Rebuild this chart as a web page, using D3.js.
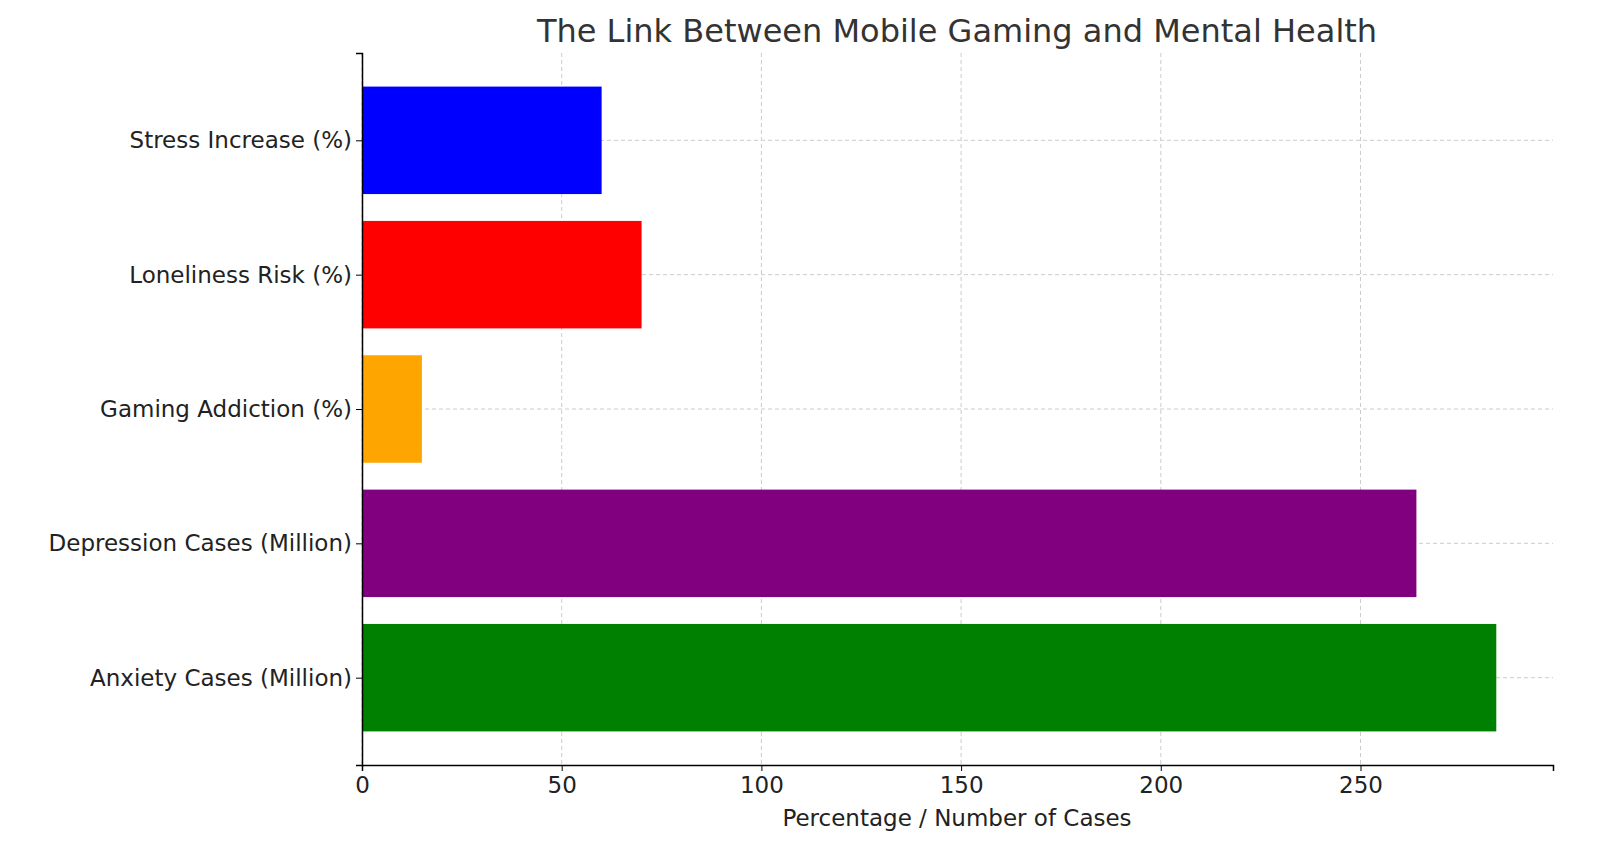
<!DOCTYPE html>
<html><head><meta charset="utf-8">
<script src="https://cdn.jsdelivr.net/npm/d3@7"></script>
<style>body{margin:0;background:#fff}text{font-family:"DejaVu Sans",sans-serif}</style>
</head><body><svg id="c" width="1600" height="864"></svg>
<script>
const categories = ["Anxiety Cases (Million)","Depression Cases (Million)","Gaming Addiction (%)","Loneliness Risk (%)","Stress Increase (%)"];
const values = [284, 264, 15, 70, 60];
const colors = ["green","purple","orange","red","blue"];
const xTicks = [0,50,100,150,200,250];
const title = "The Link Between Mobile Gaming and Mental Health";
const xLabel = "Percentage / Number of Cases";

const svg = d3.select("#c");
const L=362,R=1553,T=53,B=765;
const x = d3.scaleLinear().domain([0, d3.max(values)*1.05]).range([L,R]);
const y = d3.scaleLinear().domain([-0.65, categories.length-1+0.65]).range([B,T]);
const bh = y(0)-y(0.8);
const g = svg.append("g");
xTicks.forEach(t=>g.append("line").attr("x1",x(t)).attr("x2",x(t)).attr("y1",T).attr("y2",B).attr("stroke","#ccc").attr("stroke-dasharray","4,3"));
categories.forEach((c,i)=>g.append("line").attr("x1",L).attr("x2",R).attr("y1",y(i)).attr("y2",y(i)).attr("stroke","#ccc").attr("stroke-dasharray","4,3"));
svg.append("g").selectAll("rect").data(categories).join("rect")
 .attr("x",x(0)).attr("y",(d,i)=>y(i)-bh/2).attr("height",bh)
 .attr("width",(d,i)=>x(values[i])-x(0)).attr("fill",(d,i)=>colors[i]);
const xa = svg.append("g").attr("transform",`translate(0,${B})`).call(d3.axisBottom(x).tickValues(xTicks).tickSize(6).tickPadding(6));
xa.select(".domain").attr("stroke","#000").attr("stroke-width",1.5);
xa.selectAll("text").attr("font-size",23).attr("fill","#222");
const ya = svg.append("g").attr("transform",`translate(${L},0)`).call(d3.axisLeft(y).tickValues(d3.range(categories.length)).tickFormat(i=>categories[i]).tickSize(6).tickPadding(4));
ya.select(".domain").attr("stroke","#000").attr("stroke-width",1.5);
ya.selectAll("text").attr("font-size",23).attr("fill","#222");
svg.append("text").attr("x",957).attr("y",42).attr("text-anchor","middle").attr("font-size",32).attr("fill","#333").text(title);
svg.append("text").attr("x",957).attr("y",826).attr("text-anchor","middle").attr("font-size",23).attr("fill","#222").text(xLabel);
</script></body></html>
